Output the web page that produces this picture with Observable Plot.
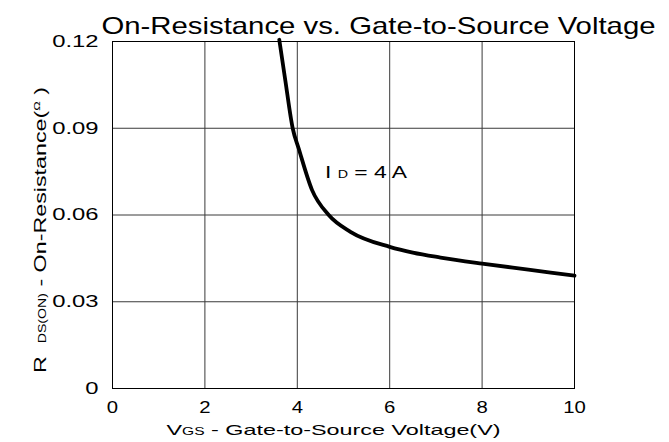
<!DOCTYPE html>
<html>
<head>
<meta charset="utf-8">
<script src="https://cdn.jsdelivr.net/npm/d3@7"></script>
<script src="https://cdn.jsdelivr.net/npm/@observablehq/plot@0.6"></script>
<style>
  html, body { margin: 0; padding: 0; background: #fff; }
  #chart svg { display: block; }
  #chart text { white-space: pre; }
</style>
</head>
<body>
<div id="chart"></div>
<script>
// ---- data ----
const vgs = [3.61, 3.74, 3.90, 4.03, 4.32, 4.68, 5.15, 6.0, 6.5, 7.1, 8.0, 9.0, 10.0];
const rdsOn = [0.1206, 0.1066, 0.090, 0.083, 0.0686, 0.060, 0.0542, 0.049, 0.0470, 0.0453, 0.0432, 0.0411, 0.0390];
const xTicks = [0, 2, 4, 6, 8, 10];
const yTicks = [0, 0.03, 0.06, 0.09, 0.12];
const yTickLabels = ["0", "0.03", "0.06", "0.09", "0.12"];
const titleText = "On-Resistance vs. Gate-to-Source Voltage";
const xLabelParts = ["V", "GS", " - Gate-to-Source Voltage(V)"];
const yLabelParts = ["R  ", "DS(ON)", " - On-Resistance(", "Ω", " )"];
const annotX = [4.6];
const annotY = [0.0744];
const annotParts = ["I ", "D", " = 4 A"];

const curve = vgs.map((v, i) => ({v, r: rdsOn[i]}));
const annot = annotX.map((x, i) => ({x, y: annotY[i], t: annotParts.join("")}));

const FONT = "'Liberation Sans', Arial, Helvetica, sans-serif";

const plot = Plot.plot({
  width: 669,
  height: 442,
  marginLeft: 112,
  marginRight: 95,
  marginTop: 41,
  marginBottom: 54,
  style: {fontFamily: FONT, background: "#fff", color: "#000", overflow: "visible"},
  x: {domain: [0, 10], label: null},
  y: {domain: [0, 0.12], label: null},
  marks: [
    Plot.gridX(xTicks, {stroke: "#3a3a3a", strokeOpacity: 1, strokeWidth: 1}),
    Plot.gridY(yTicks, {stroke: "#3a3a3a", strokeOpacity: 1, strokeWidth: 1}),
    Plot.frame({stroke: "#000", strokeWidth: 1}),
    Plot.axisX(xTicks, {tickSize: 0, tickPadding: 13, fontSize: 16, fill: "#000"}),
    Plot.axisY(yTicks, {tickSize: 0, tickPadding: 14, fontSize: 17, fill: "#000",
      tickFormat: d => yTickLabels[yTicks.indexOf(d)]}),
    Plot.line(curve, {x: "v", y: "r", stroke: "#000", strokeWidth: 3.8, curve: "monotone-x"}),
    Plot.text(annot, {x: "x", y: "y", text: "t", textAnchor: "start", fontSize: 16, fill: "#000"}),
    Plot.text([titleText], {text: d => d, frameAnchor: "top-left", textAnchor: "start", dx: -11, dy: -25,
      fontSize: 24, fill: "#000"}),
    Plot.text([xLabelParts.join("")], {text: d => d, frameAnchor: "bottom", textAnchor: "middle", dx: -10, dy: 46,
      fontSize: 15, fill: "#000"}),
    Plot.text([yLabelParts.join("")], {text: d => d, frameAnchor: "left", textAnchor: "middle", rotate: -90,
      dx: -72, dy: 15, fontSize: 16.5, fill: "#000"})
  ]
});

document.getElementById("chart").append(plot);
const svg = plot;
const NS = "http://www.w3.org/2000/svg";

function find(str) {
  return Array.from(svg.querySelectorAll("text")).find(t => t.textContent === str) || null;
}
function stretch(el, target) {
  if (!el) return;
  el.setAttribute("textLength", target);
  el.setAttribute("lengthAdjust", "spacingAndGlyphs");
}
svg.querySelectorAll('g[aria-label="x-axis tick label"] text').forEach(t => stretch(t, t.getComputedTextLength() * 1.27));
svg.querySelectorAll('g[aria-label="y-axis tick label"] text').forEach(t => stretch(t, t.getComputedTextLength() * 1.4));

function rich(parts, target) {
  const t = find(parts.map(p => p.t).join(""));
  if (!t) return;
  while (t.firstChild) t.removeChild(t.firstChild);
  for (const p of parts) {
    const ts = document.createElementNS(NS, "tspan");
    ts.textContent = p.t;
    if (p.fs) ts.setAttribute("font-size", p.fs);
    if (p.dy) ts.setAttribute("dy", p.dy);
    t.appendChild(ts);
  }
  if (target) stretch(t, target);
}

stretch(find(titleText), 554);
rich([{t: xLabelParts[0]}, {t: xLabelParts[1], fs: 10}, {t: xLabelParts[2]}], 334);
rich([{t: yLabelParts[0]}, {t: yLabelParts[1], fs: 10}, {t: yLabelParts[2]},
  {t: yLabelParts[3], fs: 9, dy: -6}, {t: yLabelParts[4], dy: 6}], 286);
rich([{t: annotParts[0]}, {t: annotParts[1], fs: 10}, {t: annotParts[2]}], 82);
</script>
</body>
</html>
